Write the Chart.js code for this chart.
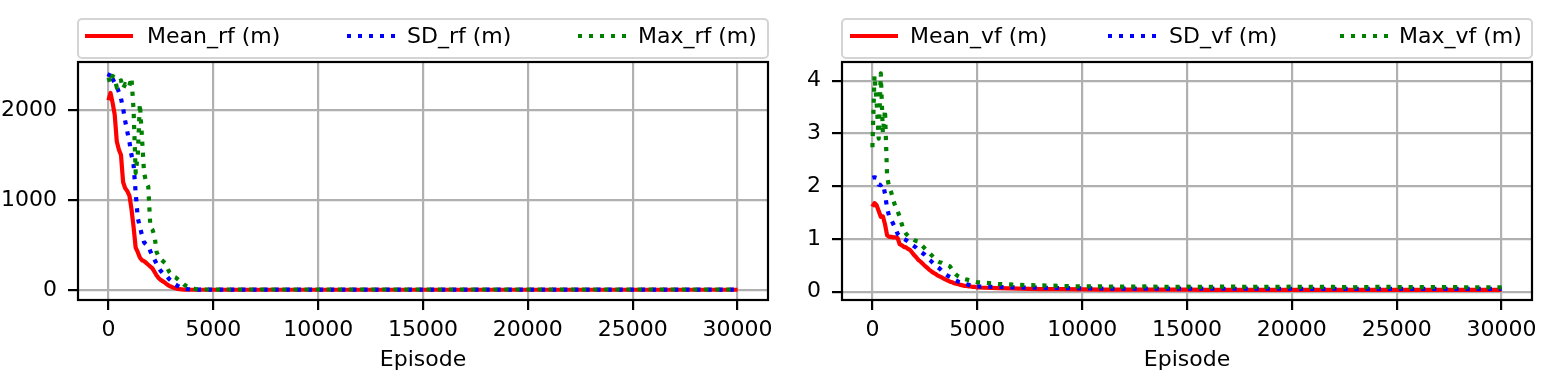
<!DOCTYPE html>
<html><head><meta charset="utf-8">
<script src="https://cdn.jsdelivr.net/npm/chart.js@4/dist/chart.umd.min.js"></script>
<style>
html,body{margin:0;padding:0;background:#fff;}
body{width:1546px;height:382px;position:relative;overflow:hidden;font-family:'DejaVu Sans';}
canvas{position:absolute;top:0;}
.legend{position:absolute;top:18px;height:41px;border:2px solid #d4d4d4;border-radius:5px;box-sizing:border-box;background:rgba(255,255,255,0.8);}
.h{position:absolute;top:34px;height:4.2px;}
.solid{background:#ff0000;}
.dotb{background:repeating-linear-gradient(to right,#0000ff 0 4.2px,transparent 4.2px 11.1px);}
.dotg{background:repeating-linear-gradient(to right,#008000 0 4.2px,transparent 4.2px 11.1px);}
.t{position:absolute;top:23px;font-size:22px;line-height:26px;white-space:nowrap;color:#000;font-family:'DejaVu Sans';}
</style>
</head>
<body>
<canvas id="c1" width="780" height="382" style="left:0;width:780px;height:382px;"></canvas>
<canvas id="c2" width="766" height="382" style="left:780px;width:766px;height:382px;"></canvas>

<div class="legend" style="left:77px;width:692px;"></div>
<div class="h solid" style="left:85px;width:48px;"></div>
<div class="t" style="left:147px;">Mean_rf (m)</div>
<div class="h dotb" style="left:347px;width:48px;"></div>
<div class="t" style="left:407px;">SD_rf (m)</div>
<div class="h dotg" style="left:578px;width:48px;"></div>
<div class="t" style="left:638px;">Max_rf (m)</div>

<div class="legend" style="left:841px;width:692px;"></div>
<div class="h solid" style="left:850px;width:48px;"></div>
<div class="t" style="left:910px;">Mean_vf (m)</div>
<div class="h dotb" style="left:1108px;width:48px;"></div>
<div class="t" style="left:1169px;">SD_vf (m)</div>
<div class="h dotg" style="left:1340px;width:48px;"></div>
<div class="t" style="left:1399px;">Max_vf (m)</div>

<script>
// ---------- data ----------
const episodes = [0,100,200,300,400,500,600,700,800,900,1000,1100,1200,1300,1400,1500,1600,1700,1800,1900,
  2000,2100,2200,2300,2400,2500,2600,2700,2800,2900,3000,3100,3200,3300,3400,3500,3600,3700,3800,3900,
  4000,4100,4200,4300,4400,4500,4600,4700,4800,4900,5000,
  6000,7000,8000,9000,10000,11000,12000,13000,14000,15000,16000,17000,18000,19000,20000,
  21000,22000,23000,24000,25000,26000,27000,28000,29000,30000];

const meanRf = [2110,2190,2080,1950,1650,1560,1500,1200,1130,1100,1050,900,700,470,420,360,330,320,300,280,
  260,240,200,160,130,110,95,80,60,45,35,25,18,12,8,6,4,3,2,2,
  2,2,2,2,2,2,2,2,2,2,2,
  2,2,2,2,2,2,2,2,2,2,2,2,2,2,2,2,2,2,2,2,2,2,2,2,2];
const sdRf = [2370,2420,2350,2300,2260,2200,2130,2020,1880,1760,1650,1500,1390,1080,800,700,610,530,505,490,
  430,380,335,290,245,210,185,165,148,120,100,77,60,45,33,24,18,12,8,5,
  3,3,3,3,3,3,3,3,3,3,3,
  3,3,3,3,3,3,3,3,3,3,3,3,3,3,3,3,3,3,3,3,3,3,3,3,3];
const maxRf = [2360,2300,2380,2360,2250,2320,2330,2240,2290,2250,2270,2360,2000,1300,1500,2070,1700,1300,1200,1150,
  700,670,600,420,370,340,320,300,250,200,170,150,140,120,100,80,60,45,35,25,
  18,12,8,5,5,5,5,5,5,5,5,
  5,5,5,5,5,5,5,5,5,5,5,5,5,5,5,5,5,5,5,5,5,5,5,5,5];

const meanVf = [1.61,1.68,1.64,1.53,1.42,1.43,1.28,1.07,1.04,1.04,1.03,1.03,1.02,0.90,0.88,0.85,0.84,0.81,0.79,0.74,
  0.69,0.65,0.60,0.57,0.53,0.49,0.46,0.42,0.39,0.36,0.34,0.31,0.29,0.27,0.25,0.23,0.21,0.19,0.18,0.16,
  0.15,0.14,0.13,0.12,0.11,0.11,0.10,0.10,0.09,0.09,0.08,
  0.07,0.06,0.05,0.05,0.045,0.04,0.04,0.04,0.04,0.04,0.035,0.035,0.035,0.035,0.035,
  0.035,0.035,0.035,0.035,0.035,0.035,0.035,0.035,0.035,0.035];
const sdVf = [2.16,2.17,2.16,2.03,2.02,2.05,1.86,1.58,1.43,1.36,1.28,1.20,1.10,1.06,1.02,1.00,0.98,0.95,0.93,0.89,
  0.86,0.83,0.79,0.76,0.73,0.70,0.66,0.61,0.58,0.54,0.51,0.47,0.44,0.40,0.36,0.33,0.30,0.28,0.25,0.23,
  0.21,0.19,0.18,0.16,0.15,0.14,0.13,0.12,0.11,0.10,0.10,
  0.09,0.08,0.075,0.07,0.065,0.06,0.06,0.06,0.06,0.058,0.058,0.056,0.058,0.056,0.056,
  0.055,0.056,0.055,0.055,0.055,0.054,0.055,0.054,0.054,0.054];
const maxVf = [2.74,4.10,3.60,2.90,4.14,3.00,3.45,2.18,1.98,1.88,1.73,1.61,1.53,1.42,1.28,1.17,1.10,1.06,1.04,1.01,
  0.98,0.96,0.95,0.90,0.86,0.82,0.78,0.74,0.70,0.66,0.62,0.58,0.56,0.55,0.53,0.52,0.50,0.48,0.42,0.36,
  0.32,0.29,0.27,0.25,0.24,0.23,0.22,0.21,0.20,0.19,0.18,
  0.15,0.13,0.12,0.11,0.10,0.10,0.095,0.10,0.09,0.095,0.09,0.10,0.09,0.09,0.095,
  0.09,0.09,0.085,0.09,0.09,0.085,0.09,0.085,0.085,0.085];

const xTicks = [0,5000,10000,15000,20000,25000,30000];
const yTicksRf = [0,1000,2000];
const yTicksVf = [0,1,2,3,4];

// ---------- drawing ----------
Chart.defaults.font.family = "'DejaVu Sans'";
Chart.defaults.font.size = 22;
Chart.defaults.color = '#000';

const spines = {
  id: 'spines',
  afterDatasetsDraw(chart) {
    const {ctx, chartArea: a} = chart;
    ctx.save();
    ctx.strokeStyle = '#000';
    ctx.lineWidth = 2.2;
    ctx.strokeRect(a.left, a.top, a.right - a.left, a.bottom - a.top);
    ctx.restore();
  }
};

function pts(xs, ys) { return xs.map((x, i) => ({x: x, y: ys[i]})); }

const DOT = [4.2, 6.9];
const gridOpts = {color: '#b0b0b0', lineWidth: 2.2, tickColor: '#000', tickWidth: 2.2, tickLength: 10};

function makeChart(id, series, labels, yMin, yMax, yTicks, yWidth, padRight) {
  return new Chart(document.getElementById(id), {
    type: 'line',
    data: {
      datasets: [
        {label: labels[0], data: pts(episodes, series[0]), borderColor: '#ff0000', borderWidth: 4.2,
         borderCapStyle: 'butt', borderJoinStyle: 'round', order: 2},
        {label: labels[1], data: pts(episodes, series[1]), borderColor: '#0000ff', borderWidth: 4.2,
         borderDash: DOT, borderCapStyle: 'butt', borderJoinStyle: 'round', order: 1},
        {label: labels[2], data: pts(episodes, series[2]), borderColor: '#008000', borderWidth: 4.2,
         borderDash: DOT, borderCapStyle: 'butt', borderJoinStyle: 'round', order: 0}
      ]
    },
    options: {
      responsive: false, animation: false, devicePixelRatio: 1,
      layout: {padding: {top: 62, right: padRight, bottom: 0, left: 0}},
      plugins: {legend: {display: false}, tooltip: {enabled: false}},
      elements: {point: {radius: 0, hoverRadius: 0}, line: {tension: 0, fill: false}},
      scales: {
        x: {
          type: 'linear', min: -1450, max: 31450,
          afterBuildTicks: s => { s.ticks = xTicks.map(v => ({value: v})); },
          afterFit: s => { s.height = 82; },
          ticks: {padding: 6.7, maxRotation: 0, autoSkip: false, callback: v => String(v)},
          grid: gridOpts,
          border: {display: false},
          title: {display: true, text: 'Episode', padding: {top: 0, bottom: 9}}
        },
        y: {
          type: 'linear', min: yMin, max: yMax,
          afterBuildTicks: s => { s.ticks = yTicks.map(v => ({value: v})); },
          afterFit: s => { s.width = yWidth; },
          ticks: {padding: 11, autoSkip: false, callback: v => String(v)},
          grid: gridOpts,
          border: {display: false}
        }
      }
    },
    plugins: [spines]
  });
}

makeChart('c1', [meanRf, sdRf, maxRf], ['Mean_rf (m)', 'SD_rf (m)', 'Max_rf (m)'],
  -112, 2535, yTicksRf, 78, 12);
makeChart('c2', [meanVf, sdVf, maxVf], ['Mean_vf (m)', 'SD_vf (m)', 'Max_vf (m)'],
  -0.157, 4.355, yTicksVf, 62, 14);
</script>
</body></html>
